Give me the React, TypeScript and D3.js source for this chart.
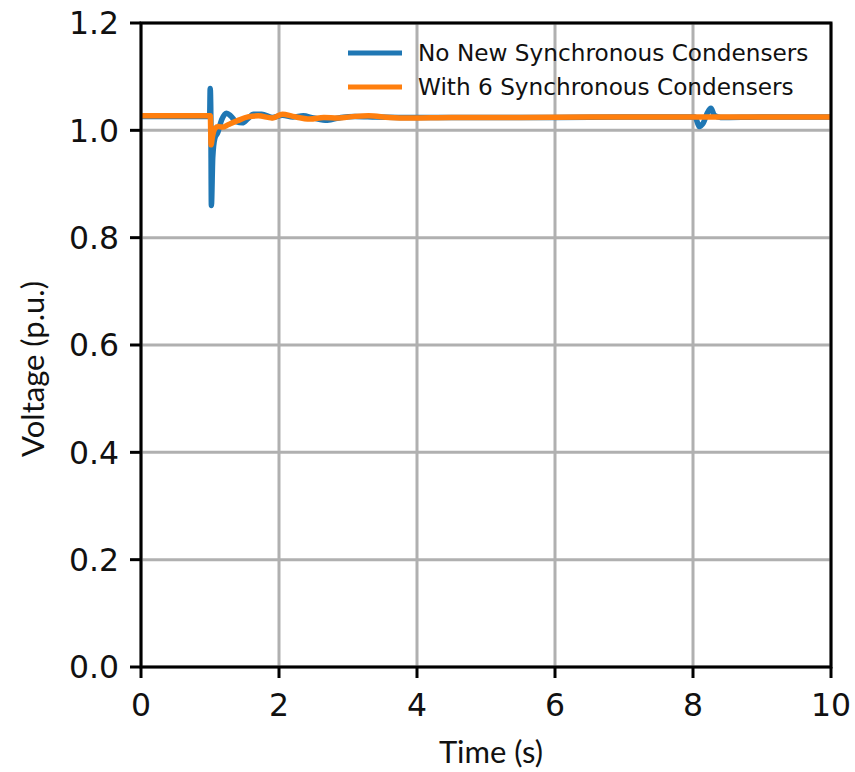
import React from "react";
import * as d3 from "d3";

// time (s), voltage (p.u.)
const noNewSC: [number, number][] = [
  [0, 1.026], [0.995, 1.026], [1.003, 1.078], [1.012, 1.03], [1.02, 0.86],
  [1.04, 0.95], [1.07, 0.985], [1.11, 0.995], [1.17, 1.02], [1.24, 1.032],
  [1.3, 1.027], [1.38, 1.016], [1.47, 1.014], [1.55, 1.022], [1.63, 1.03],
  [1.75, 1.03], [1.9, 1.024], [2.05, 1.028], [2.2, 1.025], [2.35, 1.027],
  [2.5, 1.023], [2.7, 1.019], [2.9, 1.024], [3.1, 1.026], [3.4, 1.025],
  [4.0, 1.024], [5.0, 1.024], [6.0, 1.024], [7.0, 1.025], [8.03, 1.025],
  [8.09, 1.007], [8.15, 1.014], [8.21, 1.033], [8.26, 1.041], [8.31, 1.028],
  [8.4, 1.024], [9.0, 1.025], [10, 1.025],
];

const withSixSC: [number, number][] = [
  [0, 1.027], [0.995, 1.027], [1.005, 1.027], [1.015, 0.973], [1.035, 0.988],
  [1.07, 1.003], [1.12, 1.007], [1.18, 1.006], [1.27, 1.011], [1.4, 1.018],
  [1.55, 1.025], [1.7, 1.027], [1.9, 1.023], [2.05, 1.03], [2.2, 1.026],
  [2.45, 1.021], [2.65, 1.024], [2.85, 1.023], [3.1, 1.026], [3.3, 1.027],
  [3.6, 1.024], [3.9, 1.023], [4.5, 1.024], [5.5, 1.024], [6.5, 1.025],
  [8.0, 1.025], [10, 1.025],
];

const xTicks = [0, 2, 4, 6, 8, 10];
const yTicks = [0.0, 0.2, 0.4, 0.6, 0.8, 1.0, 1.2];

const series = [
  { name: "No New Synchronous Condensers", color: "#1f77b4", data: noNewSC },
  { name: "With 6 Synchronous Condensers", color: "#ff7f0e", data: withSixSC },
];

export default function App() {
  const width = 855, height = 772;
  const left = 141, right = 831, top = 23, bottom = 667;

  const x = d3.scaleLinear().domain([0, 10]).range([left, right]);
  const y = d3.scaleLinear().domain([0, 1.2]).range([bottom, top]);

  const line = d3.line<[number, number]>()
    .x(d => x(d[0]))
    .y(d => y(d[1]))
    .curve(d3.curveMonotoneX);

  const tickFont = "DejaVu Sans, sans-serif";
  const labelFont = "Lato, 'Open Sans', sans-serif";

  return (
    <svg width={width} height={height} style={{ position: "absolute", left: 0, top: 0, background: "#fff" }}>
      <defs>
        <clipPath id="plot">
          <rect x={left} y={top} width={right - left} height={bottom - top} />
        </clipPath>
      </defs>

      {/* grid */}
      <g stroke="#b0b0b0" strokeWidth={3}>
        {xTicks.map(t => (
          <line key={"gx" + t} x1={x(t)} x2={x(t)} y1={top} y2={bottom} />
        ))}
        {yTicks.map(t => (
          <line key={"gy" + t} x1={left} x2={right} y1={y(t)} y2={y(t)} />
        ))}
      </g>

      {/* legend */}
      <g fontFamily={tickFont} fontSize={23.2} fill="#111">
        {series.map((s, i) => (
          <g key={s.name} transform={`translate(0, ${53 + i * 34})`}>
            <line x1={348} x2={402} y1={0} y2={0} stroke={s.color} strokeWidth={5} />
            <text x={418} y={8}>{s.name}</text>
          </g>
        ))}
      </g>

      {/* series */}
      <g clipPath="url(#plot)" fill="none" strokeWidth={5.5} strokeLinejoin="round" strokeLinecap="round">
        {series.map(s => (
          <path key={s.name} d={line(s.data) || ""} stroke={s.color} />
        ))}
      </g>

      {/* spines */}
      <rect x={left} y={top} width={right - left} height={bottom - top} fill="none" stroke="#000" strokeWidth={3} />

      {/* x ticks */}
      <g fontFamily={tickFont} fontSize={31.5} fill="#111" textAnchor="middle">
        {xTicks.map(t => (
          <g key={"xt" + t}>
            <line x1={x(t)} x2={x(t)} y1={bottom} y2={bottom + 11} stroke="#000" strokeWidth={3} />
            <text x={x(t)} y={716}>{d3.format("d")(t)}</text>
          </g>
        ))}
      </g>

      {/* y ticks */}
      <g fontFamily={tickFont} fontSize={31.5} fill="#111" textAnchor="end">
        {yTicks.map(t => (
          <g key={"yt" + t}>
            <line x1={left - 11} x2={left} y1={y(t)} y2={y(t)} stroke="#000" strokeWidth={3} />
            <text x={119} y={y(t)} dy="0.36em">{d3.format(".1f")(t)}</text>
          </g>
        ))}
      </g>

      {/* axis labels */}
      <text x={491} y={763} textAnchor="middle" fontFamily={labelFont} fontSize={31} fill="#111">Time (s)</text>
      <text transform="translate(44, 369) rotate(-90)" textAnchor="middle" fontFamily={labelFont} fontSize={31} fill="#111">Voltage (p.u.)</text>
    </svg>
  );
}
